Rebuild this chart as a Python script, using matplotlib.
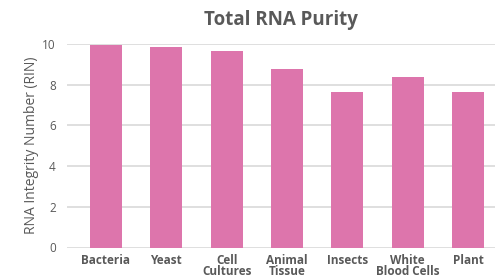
import matplotlib
matplotlib.use("Agg")
import matplotlib.pyplot as plt

categories = ["Bacteria", "Yeast", "Cell\nCultures", "Animal\nTissue", "Insects",
              "White\nBlood Cells", "Plant"]
rin_values = [9.95, 9.85, 9.65, 8.78, 7.65, 8.39, 7.65]
y_ticks = [0, 2, 4, 6, 8, 10]

plt.rcParams["font.family"] = ["Open Sans", "DejaVu Sans"]

fig = plt.figure(figsize=(5, 2.75), dpi=100)
ax = fig.add_axes([0.134, 0.1, 0.856, 0.74])

ax.bar(range(len(categories)), rin_values, width=0.53, color="#DD75AC", zorder=3)

ax.set_ylim(0, 10)
ax.set_xlim(-0.646, len(categories) - 0.552)
ax.set_yticks(y_ticks)
ax.grid(axis="y", color="#D9D9D9", linewidth=1.2, zorder=0)
for s in ax.spines.values():
    s.set_visible(False)
ax.tick_params(axis="both", length=0, colors="#595959")
ax.tick_params(axis="y", labelsize=8.5, pad=8)
ax.set_xticks(range(len(categories)))
ax.set_xticklabels(categories, fontsize=8.5, fontweight="bold", linespacing=0.8)
ax.tick_params(axis="x", pad=5)

ax.set_ylabel("RNA Integrity Number (RIN)", fontsize=10, color="#595959", labelpad=2)
fig.suptitle("Total RNA Purity", fontsize=13.5, fontweight="bold", color="#595959", x=0.562, y=0.965)

fig.savefig("out.png", dpi=100)
